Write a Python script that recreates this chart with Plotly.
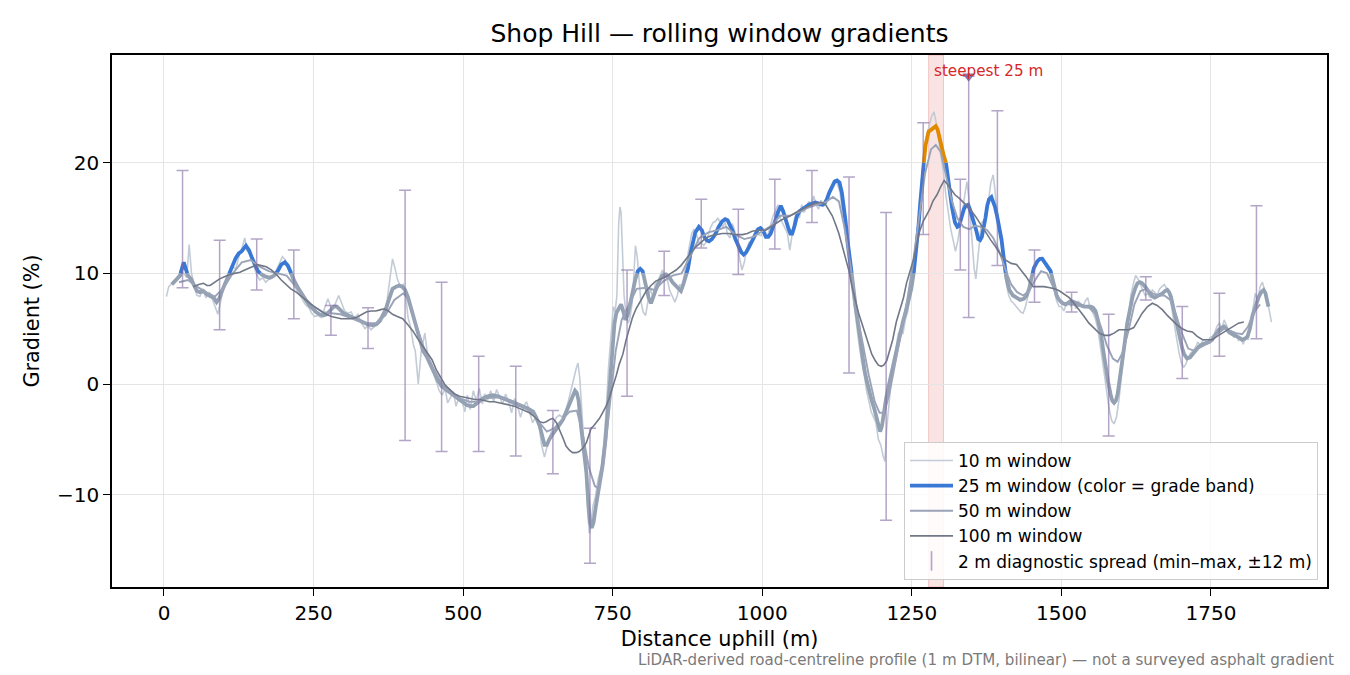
import plotly.graph_objects as go

# ---------------- data ----------------
w10_x = [4, 8, 15, 22, 28, 33, 38, 42, 46, 50, 55, 60, 65, 70, 76, 82, 86, 90, 95, 100, 105, 110, 115, 120, 126, 131, 135,
         139, 144, 149, 154, 160, 165, 170, 176, 182, 188, 193, 198, 203, 208, 213, 218, 224, 230, 236, 242, 247, 252, 257,
         263, 268, 274, 280, 286, 292, 297, 302, 307, 313, 318, 324, 330, 336, 341, 346, 352, 358, 363, 368, 373, 378, 382,
         386, 390, 395, 400, 404, 408, 412, 417, 420, 425, 430, 436, 441, 446, 451, 456, 460, 465, 470, 474, 479, 484, 488,
         493, 498, 503, 507, 512, 517, 522, 527, 532, 536, 541, 546, 551, 556, 561, 566, 571, 576, 581, 586, 591, 596, 601,
         606, 611, 616, 621, 626, 631, 636, 641, 646, 651, 656, 661, 666, 671, 676, 681, 685, 689, 692, 695, 698, 702, 705,
         708, 711, 714, 717, 721, 726, 731, 735, 739, 743, 747, 751, 754, 757, 760, 762, 764, 766, 769, 772, 776, 779, 783,
         786, 788, 791, 794, 797, 801, 805, 809, 813, 817, 821, 825, 829, 833, 837, 841, 845, 850, 854, 858, 862, 866, 870,
         874, 878, 882, 886, 890, 894, 898, 902, 906, 910, 914, 918, 922, 926, 930, 934, 938, 942, 946, 950, 954, 958, 962,
         966, 970, 974, 978, 982, 986, 990, 994, 998, 1002, 1006, 1010, 1014, 1018, 1022, 1026, 1030, 1034, 1038, 1042,
         1046, 1050, 1054, 1058, 1062, 1066, 1070, 1074, 1078, 1082, 1086, 1090, 1094, 1098, 1102, 1106, 1110, 1114, 1118,
         1122, 1126, 1130, 1134, 1138, 1142, 1146, 1150, 1154, 1158, 1162, 1166, 1170, 1174, 1178, 1182, 1186, 1190, 1194,
         1198, 1202, 1205, 1208, 1211, 1215, 1219, 1223, 1227, 1231, 1235, 1239, 1243, 1247, 1251, 1255, 1259, 1263, 1267,
         1271, 1275, 1279, 1283, 1287, 1291, 1295, 1299, 1303, 1307, 1311, 1315, 1319, 1323, 1327, 1331, 1335, 1339, 1342,
         1345, 1348, 1351, 1354, 1357, 1360, 1363, 1366, 1370, 1374, 1378, 1382, 1386, 1389, 1392, 1396, 1400, 1404, 1408,
         1412, 1416, 1420, 1424, 1428, 1432, 1436, 1440, 1444, 1448, 1452, 1456, 1460, 1464, 1468, 1472, 1476, 1480, 1484,
         1488, 1492, 1496, 1500, 1504, 1508, 1512, 1516, 1520, 1524, 1528, 1532, 1536, 1540, 1544, 1548, 1552, 1556, 1560,
         1564, 1568, 1572, 1576, 1580, 1584, 1588, 1592, 1596, 1600, 1604, 1608, 1612, 1616, 1620, 1624, 1628, 1632, 1636,
         1640, 1644, 1648, 1652, 1656, 1660, 1664, 1668, 1672, 1676, 1680, 1684, 1688, 1692, 1696, 1700, 1704, 1708, 1712,
         1716, 1720, 1724, 1728, 1732, 1736, 1740, 1744, 1748, 1752, 1756, 1760, 1764, 1768, 1772, 1776, 1780, 1784, 1788,
         1792, 1796, 1800, 1804, 1808, 1812, 1816, 1820, 1824, 1828, 1832, 1836, 1840, 1844, 1848, 1851]
w10_y = [7.9, 8.8, 9.2, 9.6, 10.2, 10.0, 9.6, 12.6, 10.0, 9.0, 8.0, 7.9, 8.6, 7.8, 8.3, 7.5, 6.9, 6.3, 7.5, 9.0, 9.3, 9.8, 10.6,
         10.4, 11.7, 12.4, 13.2, 12.0, 11.8, 11.0, 10.0, 9.4, 9.6, 9.2, 9.5, 9.6, 10.3, 11.0, 11.5, 11.2, 10.4, 9.4, 8.8, 8.3,
         7.7, 7.2, 6.9, 6.4, 6.1, 6.2, 6.0, 6.7, 7.7, 6.8, 7.2, 8.0, 7.2, 6.6, 6.4, 6.5, 5.9, 6.3, 5.5, 5.0, 5.3, 4.9, 5.2, 5.8,
         6.0, 6.5, 7.6, 9.5, 11.3, 10.5, 9.5, 8.8, 9.0, 8.0, 6.0, 5.2, 3.5, 3.0, 0.0, 3.0, 4.6, 2.4, 2.0, 0.9, 0.0, -0.6, -1.0,
         -0.4, -1.7, -1.2, -0.7, -2.0, -1.2, -1.5, -2.5, -1.0, -2.3, -0.6, -1.5, -0.4, -1.8, -0.9, -1.4, -0.6, -1.6, -0.5,
         -1.2, -1.8, -0.9, -1.6, -2.6, -1.3, -2.0, -3.0, -2.0, -1.6, -2.5, -3.5, -3.0, -3.3, -5.5, -6.6, -5.5, -4.5, -3.6,
         -3.0, -2.8, -3.0, -2.5, -1.5, -0.5, 0.5, 1.4, 1.9, 0.5, -2.5, -5.5, -8.0, -11.5, -13.5, -12.8, -11.0, -10.2, -8.5,
         -7.5, -5.5, -2.5, 1.5, 4.0, 7.0, 6.5, 8.0, 14.5, 16.0, 15.5, 12.0, 8.0, 6.5, 5.5, 6.0, 7.5, 10.5, 12.5, 11.5, 9.0,
         7.5, 6.5, 6.2, 7.5, 8.7, 7.8, 9.0, 9.2, 9.7, 10.3, 9.8, 9.5, 8.5, 7.8, 7.4, 8.0, 9.0, 8.8, 10.0, 11.0, 12.2, 13.6,
         14.0, 13.5, 12.8, 12.8, 12.5, 12.8, 13.5, 14.2, 14.6, 14.7, 15.0, 14.5, 14.2, 14.6, 13.5, 13.2, 14.5, 13.8, 12.5,
         11.2, 10.3, 11.0, 12.2, 12.8, 12.8, 13.5, 14.0, 13.5, 13.4, 14.0, 13.2, 13.6, 14.3, 15.2, 15.6, 16.2, 15.0, 14.5,
         14.0, 13.6, 12.1, 13.5, 15.0, 15.5, 15.0, 16.2, 15.5, 16.1, 16.5, 16.0, 17.0, 16.2, 15.8, 16.6, 16.0, 16.5, 17.0,
         17.5, 18.0, 18.5, 18.0, 17.3, 15.5, 13.8, 12.0, 10.2, 8.5, 6.5, 4.8, 3.5, 2.0, 1.0, -0.5, -1.5, -2.5, -3.0, -3.5,
         -5.0, -5.5, -6.5, -7.0, -4.0, -2.0, 0.0, 2.0, 3.0, 4.5, 5.0, 4.5, 5.8, 6.5, 8.0, 9.5, 11.5, 13.5, 16.0, 19.0, 21.5,
         22.5, 23.5, 24.2, 24.6, 23.5, 22.0, 20.5, 19.0, 17.0, 15.5, 14.0, 13.0, 12.0, 13.0, 14.5, 16.0, 17.5, 18.3, 17.0,
         14.5, 12.5, 10.5, 9.5, 11.0, 13.0, 14.5, 14.8, 15.0, 16.5, 18.2, 18.9, 17.5, 15.5, 14.0, 12.5, 10.5, 9.0, 8.0, 7.5,
         7.3, 7.0, 6.8, 6.5, 6.4, 7.0, 8.0, 9.5, 10.2, 10.8, 11.0, 11.2, 11.5, 11.0, 10.8, 10.5, 9.5, 8.5, 7.5, 7.0, 7.0, 6.6,
         7.2, 7.5, 7.0, 7.6, 6.8, 7.5, 7.2, 7.0, 7.5, 7.8, 6.8, 6.5, 6.0, 5.2, 3.8, 2.5, 0.8, -0.8, -2.3, -3.3, -3.6, -3.0,
         -1.5, 0.5, 2.5, 4.5, 6.5, 8.0, 9.0, 9.8, 9.5, 9.0, 8.5, 8.0, 8.2, 7.8, 8.5, 8.3, 8.0, 8.6, 8.8, 9.0, 8.6, 8.2, 7.0,
         5.5, 4.3, 3.0, 2.0, 1.5, 1.8, 2.4, 2.8, 3.0, 3.3, 3.8, 3.5, 3.9, 4.0, 3.6, 4.2, 4.3, 4.6, 5.2, 5.5, 5.0, 5.8, 5.3,
         4.6, 4.8, 4.2, 4.5, 3.9, 4.2, 3.6, 4.3, 4.0, 5.3, 7.0, 8.2, 7.5, 8.8, 9.2, 8.4, 7.5, 6.5, 5.6]

w25_x = [13, 21, 27, 30, 33, 36, 40, 45, 50, 55, 60, 66, 72, 77, 83, 88, 93, 97, 101, 106, 110, 115, 120, 125, 130, 137,
         142, 147, 152, 157, 163, 170, 177, 184, 190, 196, 202, 207, 212, 218, 225, 232, 238, 243, 249, 254, 260, 266, 272,
         278, 284, 289, 294, 300, 308, 316, 324, 332, 340, 349, 355, 361, 366, 371, 377, 382, 388, 393, 398, 403, 408, 412,
         416, 422, 428, 433, 439, 445, 450, 457, 464, 471, 478, 486, 494, 500, 506, 512, 517, 524, 533, 541, 550, 558, 567,
         575, 583, 591, 600, 608, 617, 622, 628, 632, 636, 640, 644, 650, 656, 662, 667, 672, 678, 683, 687, 690, 693, 697,
         701, 706, 709, 712, 715, 718, 722, 727, 733, 738, 742, 746, 750, 753, 756, 760, 764, 768, 771, 775, 779, 783, 788,
         792, 796, 800, 803, 806, 810, 814, 818, 822, 828, 833, 839, 844, 850, 856, 861, 864, 868, 872, 876, 880, 884, 888,
         894, 899, 903, 907, 911, 916, 922, 927, 933, 938, 942, 946, 950, 955, 961, 965, 969, 973, 978, 983, 989, 993, 997,
         1002, 1006, 1010, 1014, 1018, 1022, 1026, 1031, 1035, 1039, 1044, 1047, 1050, 1054, 1058, 1062, 1067, 1072, 1078,
         1083, 1089, 1094, 1100, 1104, 1108, 1112, 1117, 1121, 1125, 1129, 1133, 1136, 1139, 1142, 1145, 1149, 1152, 1156,
         1160, 1164, 1167, 1171, 1175, 1179, 1183, 1187, 1191, 1194, 1197, 1200, 1203, 1207, 1212, 1218, 1224, 1229, 1235,
         1241, 1245, 1249, 1253, 1257, 1261, 1264, 1267, 1270, 1273, 1278, 1282, 1286, 1290, 1293, 1297, 1300, 1304, 1307,
         1311, 1314, 1317, 1322, 1326, 1329, 1333, 1337, 1340, 1344, 1347, 1350, 1354, 1358, 1361, 1364, 1367, 1370, 1373,
         1376, 1379, 1383, 1386, 1389, 1392, 1394, 1397, 1400, 1404, 1408, 1413, 1419, 1425, 1431, 1437, 1442, 1446, 1450,
         1454, 1460, 1464, 1468, 1472, 1477, 1482, 1488, 1492, 1496, 1502, 1507, 1512, 1516, 1521, 1527, 1533, 1538, 1544,
         1549, 1553, 1557, 1561, 1566, 1570, 1574, 1578, 1582, 1585, 1588, 1591, 1594, 1598, 1602, 1606, 1610, 1615, 1619,
         1623, 1627, 1631, 1635, 1640, 1644, 1648, 1652, 1656, 1660, 1665, 1669, 1673, 1677, 1680, 1683, 1687, 1691, 1695,
         1699, 1702, 1705, 1710, 1715, 1719, 1725, 1730, 1736, 1741, 1747, 1752, 1758, 1763, 1768, 1772, 1776, 1780, 1786,
         1791, 1797, 1802, 1807, 1811, 1815, 1819, 1825, 1830, 1834, 1838, 1841, 1844, 1846]
w25_y = [9.0, 9.4, 9.8, 10.6, 11.0, 10.5, 9.8, 9.5, 9.0, 8.4, 8.3, 8.4, 8.1, 8.0, 7.8, 7.4, 7.8, 8.4, 9.0, 9.6, 10.1, 10.8,
         11.4, 11.8, 12.0, 12.5, 12.1, 11.4, 10.7, 10.2, 9.9, 9.7, 9.6, 9.8, 10.2, 10.8, 11.0, 10.7, 10.1, 9.3, 8.6, 8.0, 7.5,
         7.1, 6.8, 6.5, 6.3, 6.2, 6.3, 6.7, 7.0, 7.0, 6.7, 6.4, 6.2, 6.0, 5.8, 5.6, 5.4, 5.3, 5.4, 5.7, 6.2, 6.8, 7.8, 8.6, 8.8,
         8.9, 8.8, 8.5, 7.8, 7.0, 6.2, 5.0, 3.8, 3.0, 2.5, 1.8, 1.1, 0.4, -0.2, -0.5, -0.8, -1.1, -1.4, -1.7, -1.9, -2.0, -2.0,
         -1.7, -1.3, -1.1, -1.0, -1.1, -1.3, -1.4, -1.6, -1.8, -2.0, -2.2, -2.5, -3.0, -3.8, -4.7, -5.5, -5.5, -5.0, -4.5,
         -4.1, -3.6, -3.2, -2.5, -1.7, -1.0, -0.6, -0.8, -1.5, -3.8, -5.8, -8.0, -10.5, -12.5, -13.0, -12.5, -11.0, -9.5,
         -7.4, -5.0, -2.6, 0.5, 3.4, 5.5, 6.4, 6.8, 7.2, 6.5, 5.8, 6.2, 7.2, 8.5, 9.5, 10.2, 10.4, 10.2, 9.5, 8.5, 7.8, 7.3,
         7.8, 8.5, 9.3, 9.8, 9.9, 9.7, 9.2, 8.8, 8.5, 8.4, 9.0, 9.7, 10.5, 11.8, 12.9, 13.7, 14.2, 13.9, 13.3, 13.0, 12.9,
         13.1, 13.6, 14.2, 14.7, 14.9, 14.8, 14.4, 13.9, 13.1, 12.4, 11.9, 11.7, 11.9, 12.4, 13.0, 13.6, 14.0, 14.1, 13.8,
         13.3, 13.3, 13.6, 14.1, 14.8, 15.5, 16.1, 15.6, 14.8, 14.0, 13.6, 13.6, 14.3, 15.2, 15.6, 15.8, 16.0, 16.2, 16.3,
         16.4, 16.3, 16.2, 16.3, 16.7, 17.3, 17.9, 18.3, 18.4, 18.2, 17.3, 16.3, 14.8, 13.2, 11.8, 10.2, 8.6, 7.0, 5.5, 3.8,
         2.8, 1.2, 0.2, -0.8, -1.5, -2.2, -3.0, -3.8, -4.3, -3.8, -2.6, -1.3, 0.0, 1.5, 3.0, 4.3, 5.6, 6.8, 7.7, 8.6, 10.0,
         12.0, 14.2, 16.3, 18.2, 20.0, 21.6, 22.8, 23.0, 23.1, 23.3, 23.0, 22.0, 21.3, 20.5, 20.0, 18.1, 17.0, 16.0, 14.6,
         14.2, 14.3, 15.1, 15.8, 16.1, 16.2, 15.8, 15.3, 14.7, 13.8, 13.1, 13.0, 13.3, 14.0, 15.0, 16.1, 16.7, 16.9, 16.5,
         16.0, 15.3, 14.8, 14.0, 13.0, 11.2, 9.6, 8.5, 8.0, 7.8, 7.6, 7.7, 8.0, 8.6, 9.6, 10.5, 11.1, 11.3, 11.3, 11.0, 10.7,
         10.2, 8.8, 8.0, 7.6, 7.3, 7.2, 7.4, 7.5, 7.4, 7.2, 7.1, 7.0, 7.0, 7.0, 6.9, 6.6, 5.8, 4.6, 3.0, 1.5, 0.2, -0.9, -1.5,
         -1.7, -1.5, -0.9, 0.5, 2.1, 3.8, 5.5, 6.9, 7.9, 8.6, 9.1, 9.2, 9.1, 8.8, 8.5, 8.1, 7.9, 7.8, 7.9, 8.1, 8.2, 8.4, 8.5,
         8.3, 7.9, 6.9, 5.8, 4.8, 4.0, 3.2, 2.7, 2.3, 2.4, 2.7, 3.1, 3.4, 3.6, 3.7, 3.8, 4.0, 4.5, 4.9, 5.1, 5.2, 5.0, 4.7,
         4.5, 4.4, 4.2, 4.0, 4.1, 4.3, 5.0, 6.1, 7.1, 7.9, 8.3, 8.5, 8.2, 7.6, 7.0]

w50_x = [25, 40, 55, 70, 85, 100, 115, 130, 145, 160, 175, 190, 205, 220, 235, 250, 265, 280, 295, 310, 325, 340, 355, 370,
         385, 400, 410, 420, 435, 450, 465, 480, 495, 510, 525, 540, 555, 570, 585, 600, 615, 628, 640, 652, 665, 678, 690,
         700, 710, 720, 727, 735, 745, 755, 765, 778, 790, 805, 820, 835, 850, 865, 880, 895, 910, 925, 940, 955, 970, 985,
         1000, 1015, 1030, 1045, 1060, 1075, 1090, 1105, 1118, 1128, 1138, 1148, 1158, 1168, 1178, 1188, 1196, 1204, 1212,
         1222, 1232, 1242, 1252, 1262, 1272, 1282, 1290, 1298, 1306, 1316, 1326, 1336, 1346, 1356, 1366, 1376, 1386, 1396,
         1406, 1416, 1426, 1436, 1446, 1456, 1466, 1476, 1486, 1496, 1506, 1516, 1526, 1536, 1546, 1556, 1566, 1576, 1586,
         1594, 1602, 1612, 1622, 1632, 1642, 1652, 1662, 1672, 1682, 1692, 1702, 1712, 1722, 1732, 1742, 1752, 1762, 1772,
         1782, 1792, 1802, 1812, 1822, 1832]
w50_y = [9.2, 9.4, 8.8, 8.3, 7.9, 8.7, 10.0, 11.0, 11.2, 10.6, 10.2, 10.0, 9.8, 8.8, 7.8, 7.0, 6.5, 6.4, 6.3, 6.0, 5.7, 5.5,
         5.5, 6.2, 7.6, 8.2, 7.5, 5.5, 3.2, 1.4, 0.0, -0.8, -1.3, -1.6, -1.6, -1.3, -1.2, -1.3, -1.6, -2.0, -2.6, -3.5, -4.3,
         -4.0, -3.2, -2.5, -2.4, -4.5, -7.5, -9.2, -9.5, -7.0, -2.0, 3.0, 5.8, 7.2, 8.6, 8.7, 8.5, 9.3, 9.8, 10.0, 11.6, 13.2,
         13.7, 13.9, 14.2, 13.5, 13.1, 13.3, 13.8, 14.3, 15.2, 15.2, 15.5, 15.9, 16.2, 16.4, 16.9, 16.5, 14.0, 10.5, 6.5, 3.5,
         0.8, -1.6, -2.6, -2.6, -1.0, 1.8, 4.5, 7.5, 11.0, 15.0, 19.0, 21.2, 21.6, 21.0, 19.2, 16.7, 15.0, 14.2, 14.0, 14.3,
         14.2, 13.9, 13.2, 12.0, 10.4, 9.0, 8.3, 8.0, 8.4, 9.4, 10.2, 10.0, 8.8, 7.6, 7.2, 7.2, 7.1, 7.0, 6.9, 6.4, 5.2, 3.5,
         2.3, 2.0, 2.8, 4.8, 7.2, 8.4, 8.6, 8.2, 8.0, 8.0, 7.6, 6.2, 4.5, 3.2, 3.0, 3.3, 3.6, 4.0, 4.6, 5.0, 4.8, 4.6, 4.5,
         5.2, 6.5, 7.2]

w100_x = [49, 58, 66, 72, 77, 85, 93, 101, 110, 118, 127, 135, 143, 150, 156, 163, 171, 180, 188, 196, 204, 212, 221, 230,
          238, 246, 254, 263, 271, 280, 288, 296, 304, 312, 321, 330, 338, 346, 354, 361, 368, 375, 382, 390, 399, 407, 416,
          424, 432, 440, 448, 455, 462, 470, 478, 486, 494, 502, 511, 520, 528, 536, 544, 552, 561, 570, 578, 586, 594, 602,
          611, 620, 628, 634, 639, 645, 650, 656, 661, 667, 672, 678, 683, 689, 694, 700, 706, 710, 714, 718, 722, 728, 733,
          739, 744, 750, 756, 761, 767, 772, 778, 783, 789, 797, 806, 814, 822, 830, 839, 847, 856, 864, 872, 880, 889, 897,
          906, 914, 922, 933, 944, 955, 967, 975, 983, 994, 1006, 1014, 1022, 1031, 1039, 1047, 1056, 1067, 1078, 1086, 1094,
          1100, 1106, 1111, 1117, 1122, 1128, 1133, 1139, 1145, 1150, 1156, 1161, 1167, 1172, 1178, 1183, 1189, 1194, 1199,
          1203, 1208, 1214, 1218, 1224, 1229, 1236, 1241, 1247, 1253, 1258, 1263, 1269, 1275, 1280, 1285, 1292, 1298, 1304,
          1310, 1316, 1322, 1329, 1336, 1346, 1357, 1366, 1374, 1382, 1390, 1398, 1407, 1416, 1425, 1433, 1441, 1447, 1453,
          1462, 1471, 1481, 1489, 1497, 1505, 1513, 1521, 1530, 1538, 1546, 1555, 1563, 1572, 1580, 1588, 1596, 1605, 1613,
          1621, 1628, 1635, 1644, 1652, 1660, 1669, 1677, 1685, 1694, 1702, 1710, 1719, 1727, 1736, 1744, 1752, 1760, 1769,
          1777, 1786, 1796, 1805]
w100_y = [8.8, 9.0, 9.1, 8.9, 8.9, 9.2, 9.5, 9.7, 9.9, 10.0, 10.1, 10.3, 10.5, 10.7, 10.8, 10.7, 10.6, 10.3, 9.9, 9.4, 9.0,
          8.6, 8.3, 7.9, 7.5, 7.2, 6.9, 6.6, 6.3, 6.1, 6.0, 5.9, 5.9, 5.9, 6.0, 6.3, 6.5, 6.6, 6.6, 6.7, 6.8, 6.6, 6.3, 6.1,
          5.9, 5.4, 4.8, 4.1, 3.5, 2.8, 2.2, 1.3, 0.6, -0.1, -0.5, -0.9, -1.1, -1.2, -1.3, -1.4, -1.4, -1.5, -1.6, -1.6, -1.7,
          -1.8, -1.9, -2.0, -2.2, -2.4, -2.6, -3.0, -3.4, -3.5, -3.4, -3.2, -3.1, -3.5, -4.1, -4.9, -5.6, -6.0, -6.2, -6.2,
          -6.1, -5.8, -5.3, -4.6, -4.0, -3.8, -3.5, -3.1, -2.6, -2.0, -1.3, -0.3, 0.8, 1.8, 2.7, 3.9, 5.0, 6.0, 6.8, 7.6, 8.4,
          8.9, 9.3, 9.5, 9.7, 10.0, 10.3, 10.7, 11.2, 11.8, 12.4, 12.8, 13.2, 13.4, 13.5, 13.6, 13.6, 13.5, 13.5, 13.6, 13.8,
          13.9, 13.9, 14.2, 14.5, 14.8, 15.0, 15.2, 15.5, 15.8, 16.1, 16.3, 16.4, 16.4, 16.2, 15.8, 15.2, 14.5, 13.6, 12.6,
          11.5, 10.2, 8.8, 7.5, 6.4, 5.4, 4.5, 3.6, 2.7, 2.1, 1.7, 1.6, 1.7, 2.1, 3.2, 4.0, 5.6, 6.6, 7.8, 9.1, 10.3, 11.3,
          12.6, 13.8, 14.7, 15.3, 15.8, 16.5, 17.1, 17.8, 18.4, 18.0, 17.6, 17.1, 16.8, 16.4, 15.9, 15.1, 14.3, 13.6, 13.0,
          12.4, 11.7, 11.2, 10.9, 10.8, 10.3, 9.7, 9.2, 8.8, 8.8, 8.8, 8.7, 8.6, 8.4, 8.1, 7.8, 7.3, 6.7, 6.1, 5.5, 5.0, 4.6,
          4.4, 4.4, 4.6, 4.9, 4.9, 4.9, 5.1, 5.8, 6.4, 7.0, 7.3, 7.1, 6.7, 6.2, 5.8, 5.3, 5.0, 4.8, 4.7, 4.3, 4.0, 4.0, 4.0,
          4.3, 4.6, 4.9, 5.2, 5.5, 5.6]

# 2 m diagnostic spread (min / max within ±12 m)
spread_x = [31, 93, 155, 217, 279, 341, 403, 464, 526, 588, 650, 712, 774, 836, 898, 960, 1021, 1083, 1145, 1207, 1269,
            1331, 1345, 1393, 1455, 1517, 1579, 1641, 1702, 1764, 1826]
spread_lo = [8.7, 4.9, 8.5, 5.9, 4.4, 3.2, -5.1, -6.1, -6.1, -6.5, -8.1, -16.2, -1.1, 8.0, 12.3, 9.9, 12.2, 14.6, 1.0,
             -12.3, 13.5, 10.3, 6.0, 10.7, 7.4, 6.5, -4.7, 7.6, 0.5, 2.5, 4.1]
spread_hi = [19.3, 13.0, 13.1, 12.1, 7.1, 6.9, 17.5, 9.2, 2.5, 1.6, -2.4, -4.0, 10.3, 12.0, 16.7, 15.8, 18.5, 19.3, 18.7,
             15.5, 23.6, 18.5, 27.8, 24.7, 12.1, 8.3, 6.3, 9.7, 7.0, 8.2, 16.1]
clipped_x = [1345]

steep_start, steep_end = 1278, 1303
grade_bands = [10, 20]

# ---------------- styling ----------------
FONT = "DejaVu Sans"
C10 = "#c3ccd6"
C50 = "#9aa3b7"
C100 = "#707786"
BAND_COLORS = ["#93a1b3", "#3a78d6", "#e08a00"]
C_SPREAD = "rgba(128,105,162,0.6)"

fig = go.Figure()

fig.add_vrect(x0=steep_start, x1=steep_end, fillcolor="rgba(214,39,40,0.13)",
              line=dict(color="rgba(214,39,40,0.22)", width=1), layer="below")

fig.add_trace(go.Scatter(x=w10_x, y=w10_y, mode="lines", line=dict(color=C10, width=1.6),
                         showlegend=False, hoverinfo="skip"))


def band_of(v):
    if v < grade_bands[0]:
        return 0
    if v < grade_bands[1]:
        return 1
    return 2


# split 25 m series into grade-band colored polylines
polylines = []
cur_band = None
cur = []
for i in range(1, len(w25_x)):
    x0, y0, x1, y1 = w25_x[i - 1], w25_y[i - 1], w25_x[i], w25_y[i]
    pts = [(x0, y0)]
    lo, hi = min(y0, y1), max(y0, y1)
    cuts = [t for t in grade_bands if lo < t < hi]
    if y1 < y0:
        cuts = cuts[::-1]
    for t in cuts:
        pts.append((x0 + (t - y0) / (y1 - y0) * (x1 - x0), t))
    pts.append((x1, y1))
    for a, b in zip(pts[:-1], pts[1:]):
        bd = band_of((a[1] + b[1]) / 2)
        if bd != cur_band:
            if cur:
                polylines.append((cur_band, cur))
            cur_band = bd
            cur = [a, b]
        else:
            cur.append(b)
if cur:
    polylines.append((cur_band, cur))

for bd, pts in polylines:
    fig.add_trace(go.Scatter(x=[p[0] for p in pts], y=[p[1] for p in pts], mode="lines",
                             line=dict(color=BAND_COLORS[bd], width=3.8),
                             showlegend=False, hoverinfo="skip"))

fig.add_trace(go.Scatter(x=w50_x, y=w50_y, mode="lines", line=dict(color=C50, width=1.9),
                         showlegend=False, hoverinfo="skip"))
fig.add_trace(go.Scatter(x=w100_x, y=w100_y, mode="lines", line=dict(color=C100, width=1.6),
                         showlegend=False, hoverinfo="skip"))

mid = [(a + b) / 2 for a, b in zip(spread_lo, spread_hi)]
fig.add_trace(go.Scatter(
    x=spread_x, y=mid, mode="markers", marker=dict(size=1, color="rgba(0,0,0,0)"),
    error_y=dict(type="data", symmetric=False,
                 array=[h - m for h, m in zip(spread_hi, mid)],
                 arrayminus=[m - l for l, m in zip(spread_lo, mid)],
                 color=C_SPREAD, thickness=1.5, width=6),
    showlegend=False, hoverinfo="skip"))

clip_y = [spread_hi[spread_x.index(cx)] for cx in clipped_x]
fig.add_trace(go.Scatter(x=clipped_x, y=clip_y, mode="markers",
                         marker=dict(symbol="triangle-down", size=11, color="rgba(120,100,158,0.85)"),
                         showlegend=False, hoverinfo="skip"))

# legend entries
fig.add_trace(go.Scatter(x=[None], y=[None], mode="lines", line=dict(color=C10, width=1.6), name="10 m window"))
fig.add_trace(go.Scatter(x=[None], y=[None], mode="lines", line=dict(color=BAND_COLORS[1], width=3.8),
                         name="25 m window (color = grade band)"))
fig.add_trace(go.Scatter(x=[None], y=[None], mode="lines", line=dict(color=C50, width=1.9), name="50 m window"))
fig.add_trace(go.Scatter(x=[None], y=[None], mode="lines", line=dict(color=C100, width=1.6), name="100 m window"))
fig.add_trace(go.Scatter(x=[None], y=[None], mode="markers",
                         marker=dict(symbol="line-ns-open", size=14, color=C_SPREAD,
                                     line=dict(color=C_SPREAD, width=1.6)),
                         name="2 m diagnostic spread (min–max, ±12 m)"))

fig.add_annotation(x=1284, y=28.3, xref="x", yref="y", text="steepest 25 m", showarrow=False,
                   xanchor="left", yanchor="middle", font=dict(family=FONT, size=15.2, color="#d62728"))

fig.add_annotation(x=1.0074, y=-0.137, xref="paper", yref="paper",
                   text="LiDAR-derived road-centreline profile (1 m DTM, bilinear) — not a surveyed asphalt gradient",
                   showarrow=False, xanchor="right", yanchor="middle",
                   font=dict(family=FONT, size=15.1, color="#7a7a7a"))

axis_common = dict(showline=True, linecolor="black", linewidth=1.5, mirror=True,
                   ticks="outside", ticklen=7, tickwidth=1.4, tickcolor="black",
                   showgrid=True, gridcolor="#e5e5e5", gridwidth=1.2, zeroline=False,
                   tickfont=dict(family=FONT, size=20, color="black"))

fig.update_layout(
    width=1350, height=675,
    margin=dict(l=112, r=23, t=55, b=88, autoexpand=False),
    paper_bgcolor="white", plot_bgcolor="white",
    font=dict(family=FONT, color="black"),
    title=dict(text="Shop Hill — rolling window gradients", x=0.5, xref="paper", xanchor="center",
               y=1 - 33 / 675, yanchor="middle", font=dict(family=FONT, size=25, color="black")),
    xaxis=dict(range=[-86.9, 1943.9], tickvals=[0, 250, 500, 750, 1000, 1250, 1500, 1750],
               ticktext=["0", "250", "500", "750", "1000", "1250", "1500", "1750"],
               title=dict(text="Distance uphill (m)", font=dict(family=FONT, size=20.8), standoff=8),
               **axis_common),
    yaxis=dict(range=[-18.34, 29.73], tickvals=[-10, 0, 10, 20], ticktext=["−10", "0", "10", "20"],
               title=dict(text="Gradient (%)", font=dict(family=FONT, size=20.8), standoff=12),
               **axis_common),
    legend=dict(x=0.9926, y=0.0132, xanchor="right", yanchor="bottom", itemwidth=43,
                bgcolor="rgba(255,255,255,0.85)", bordercolor="#cccccc", borderwidth=1,
                font=dict(family=FONT, size=17, color="black"), traceorder="normal"),
    showlegend=True,
)

fig.write_html("out.html")
